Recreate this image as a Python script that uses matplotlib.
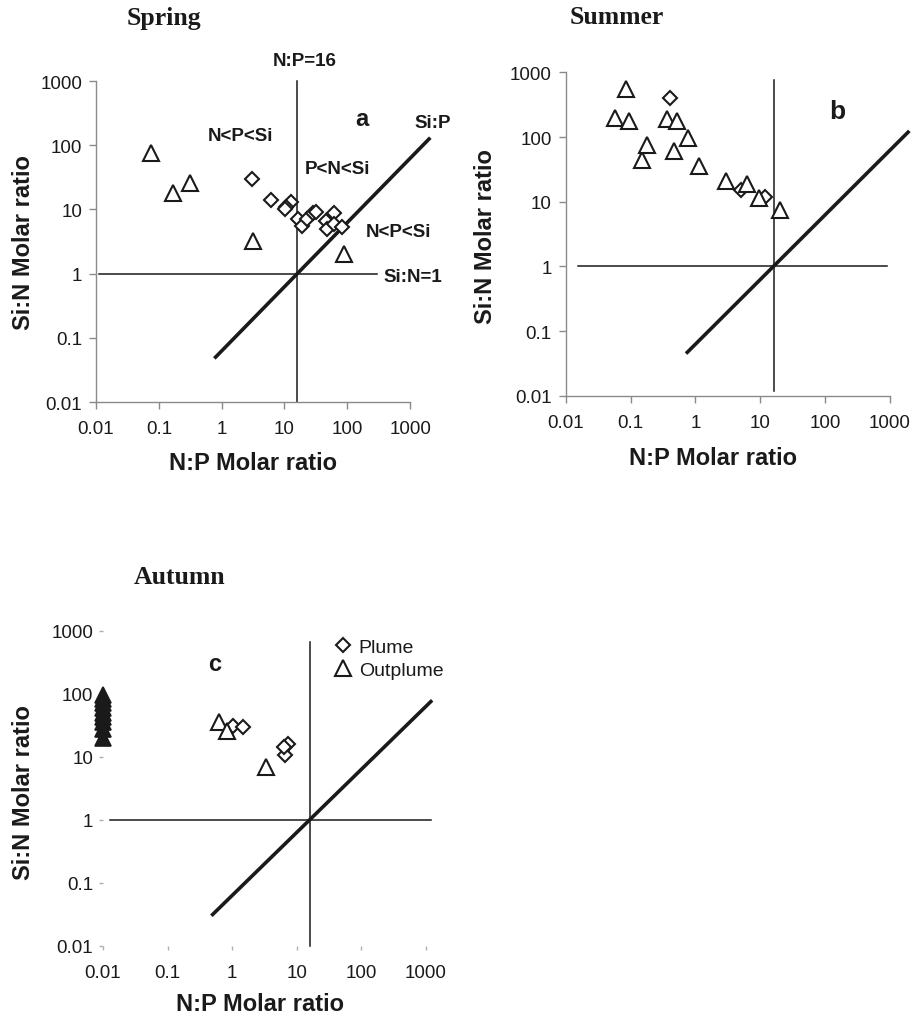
import matplotlib
matplotlib.use('Agg')
import matplotlib.pyplot as plt

plt.rcParams['font.family'] = ['Liberation Sans', 'DejaVu Sans']

# spring (panel a)
sp_plume_np = [3.0, 6.0, 12.5, 10.7, 10.2, 16.6, 19, 23, 28, 32, 46, 48, 62, 62, 83]
sp_plume_sin = [30, 14, 13, 11, 10, 7.2, 5.6, 7, 8.7, 9, 6.7, 5, 8.7, 6, 5.4]
sp_out_np = [0.075, 0.17, 0.31, 3.1, 90]
sp_out_sin = [75, 18, 26, 3.2, 2.0]

# summer (panel b)
su_plume_np = [0.40, 5.1, 11.7]
su_plume_sin = [400, 15, 12]
su_out_np = [0.085, 0.057, 0.094, 0.15, 0.18, 0.36, 0.52, 0.46, 0.78, 1.12, 3.0, 6.2, 9.4, 20]
su_out_sin = [550, 195, 175, 44, 76, 190, 175, 60, 96, 36, 21, 19, 11.3, 7.5]

# autumn (panel c)
au_plume_np = [1.02, 1.5, 6.7, 7.3, 6.3]
au_plume_sin = [31, 30, 10.5, 16, 14]
au_out_np = [0.62, 0.83, 3.3]
au_out_sin = [36, 26, 6.8]
au_zero_sin = [20, 28, 35, 42, 50, 60, 70, 82, 95]   # N:P ~ 0, drawn at 0.01
au_zero_np = [0.01] * len(au_zero_sin)

ticks = [0.01, 0.1, 1, 10, 100, 1000]
tick_labels = ['0.01', '0.1', '1', '10', '100', '1000']
np_redfield = 16

ink = '#1a1a1a'

fig = plt.figure(figsize=(9.13, 10.2), dpi=100)


def setup(ax, spines=True):
    ax.set_xscale('log')
    ax.set_yscale('log')
    ax.set_xlim(0.01, 1000)
    ax.set_ylim(0.01, 1000)
    ax.set_xticks(ticks)
    ax.set_xticklabels(tick_labels)
    ax.set_yticks(ticks)
    ax.set_yticklabels(tick_labels)
    ax.minorticks_off()
    for s in ['top', 'right']:
        ax.spines[s].set_visible(False)
    for s in ['left', 'bottom']:
        ax.spines[s].set_color('#8a8a8a')
        ax.spines[s].set_linewidth(1)
        ax.spines[s].set_visible(spines)
    ax.tick_params(direction='out', length=5, width=1, color='#8a8a8a',
                   labelsize=13.5, labelcolor=ink)
    ax.tick_params(axis='x', pad=8)
    ax.tick_params(axis='y', pad=5)
    ax.set_xlabel('N:P Molar ratio', fontsize=17, fontweight='bold', color=ink)
    ax.set_ylabel('Si:N Molar ratio', fontsize=17, fontweight='bold', color=ink)


def ref_lines(ax, vy, hx, px):
    ax.plot([np_redfield, np_redfield], vy, color=ink, lw=1.1, clip_on=False, zorder=1)
    ax.plot(hx, [1, 1], color=ink, lw=1.1, clip_on=False, zorder=1)
    ax.plot(px, [px[0] / np_redfield, px[1] / np_redfield], color=ink, lw=2.6,
            clip_on=False, zorder=1)


def points(ax, pnp, psin, onp, osin):
    d = ax.plot(pnp, psin, 'D', ms=7.2, mfc='white', mec=ink, mew=1.5,
                ls='none', clip_on=False, zorder=3, label='Plume')
    t = ax.plot(onp, osin, '^', ms=11, mfc='white', mec=ink, mew=1.5,
                ls='none', clip_on=False, zorder=3, label='Outplume')
    return d[0], t[0]


bold = dict(fontsize=13.5, fontweight='bold', color=ink, ha='center', va='center',
            clip_on=False)

# ---- a: spring
ax = fig.add_axes([0.1052, 0.6049, 0.344, 0.3147])
setup(ax)
ref_lines(ax, [0.01, 1000], [0.011, 300], [0.8, 2000])
points(ax, sp_plume_np, sp_plume_sin, sp_out_np, sp_out_sin)
ax.text(21, 2050, 'N:P=16', **bold)
ax.text(172, 265, 'a', **dict(bold, fontsize=17))
ax.text(2330, 222, 'Si:P', **bold)
ax.text(1.96, 144, 'N<P<Si', **bold)
ax.text(69, 44, 'P<N<Si', **bold)
ax.text(645, 4.6, 'N<P<Si', **bold)
ax.text(1120, 0.89, 'Si:N=1', **bold)
ax.yaxis.set_label_coords(-0.194, 0.5)
ax.xaxis.set_label_coords(0.5, -0.154)

# ---- b: summer
ax = fig.add_axes([0.6196, 0.6111, 0.3552, 0.317])
setup(ax)
ref_lines(ax, [0.012, 750], [0.0156, 900], [0.75, 1900])
points(ax, su_plume_np, su_plume_sin, su_out_np, su_out_sin)
ax.text(155, 250, 'b', **dict(bold, fontsize=19))
ax.yaxis.set_label_coords(-0.212, 0.494)
ax.xaxis.set_label_coords(0.455, -0.157)

# ---- c: autumn
ax = fig.add_axes([0.1128, 0.0719, 0.3535, 0.3088])
setup(ax, spines=False)
ax.tick_params(color='#b0b0b0', length=3)
ax.tick_params(axis='x', pad=10)
ax.tick_params(axis='y', pad=4)
ref_lines(ax, [0.01, 650], [0.013, 1200], [0.5, 1200])
hd, ht = points(ax, au_plume_np, au_plume_sin, au_out_np, au_out_sin)
ax.plot(au_zero_np, au_zero_sin, '^', ms=11, mfc=ink, mec=ink, mew=1.2,
        ls='none', clip_on=False, zorder=3)
ax.text(0.54, 300, 'c', **dict(bold, fontsize=17))
ax.legend(handles=[hd, ht], loc='upper left', bbox_to_anchor=(0.69, 1.0),
          frameon=False, fontsize=14, handlelength=1.0, handletextpad=0.3,
          labelspacing=0.25, borderaxespad=0, labelcolor=ink)
ax.yaxis.set_label_coords(-0.211, 0.49)
ax.xaxis.set_label_coords(0.485, -0.148)

# season titles
serif = dict(family=['Liberation Serif', 'DejaVu Serif'], fontsize=18.5,
             fontweight='bold', color=ink, ha='center', va='center')
fig.text(164 / 913, 1 - 18 / 1020, 'Spring', **serif)
fig.text(617 / 913, 1 - 18 / 1020, 'Summer', **serif)
fig.text(180 / 913, 1 - 577 / 1020, 'Autumn', **serif)

fig.savefig('out.png', dpi=100)
